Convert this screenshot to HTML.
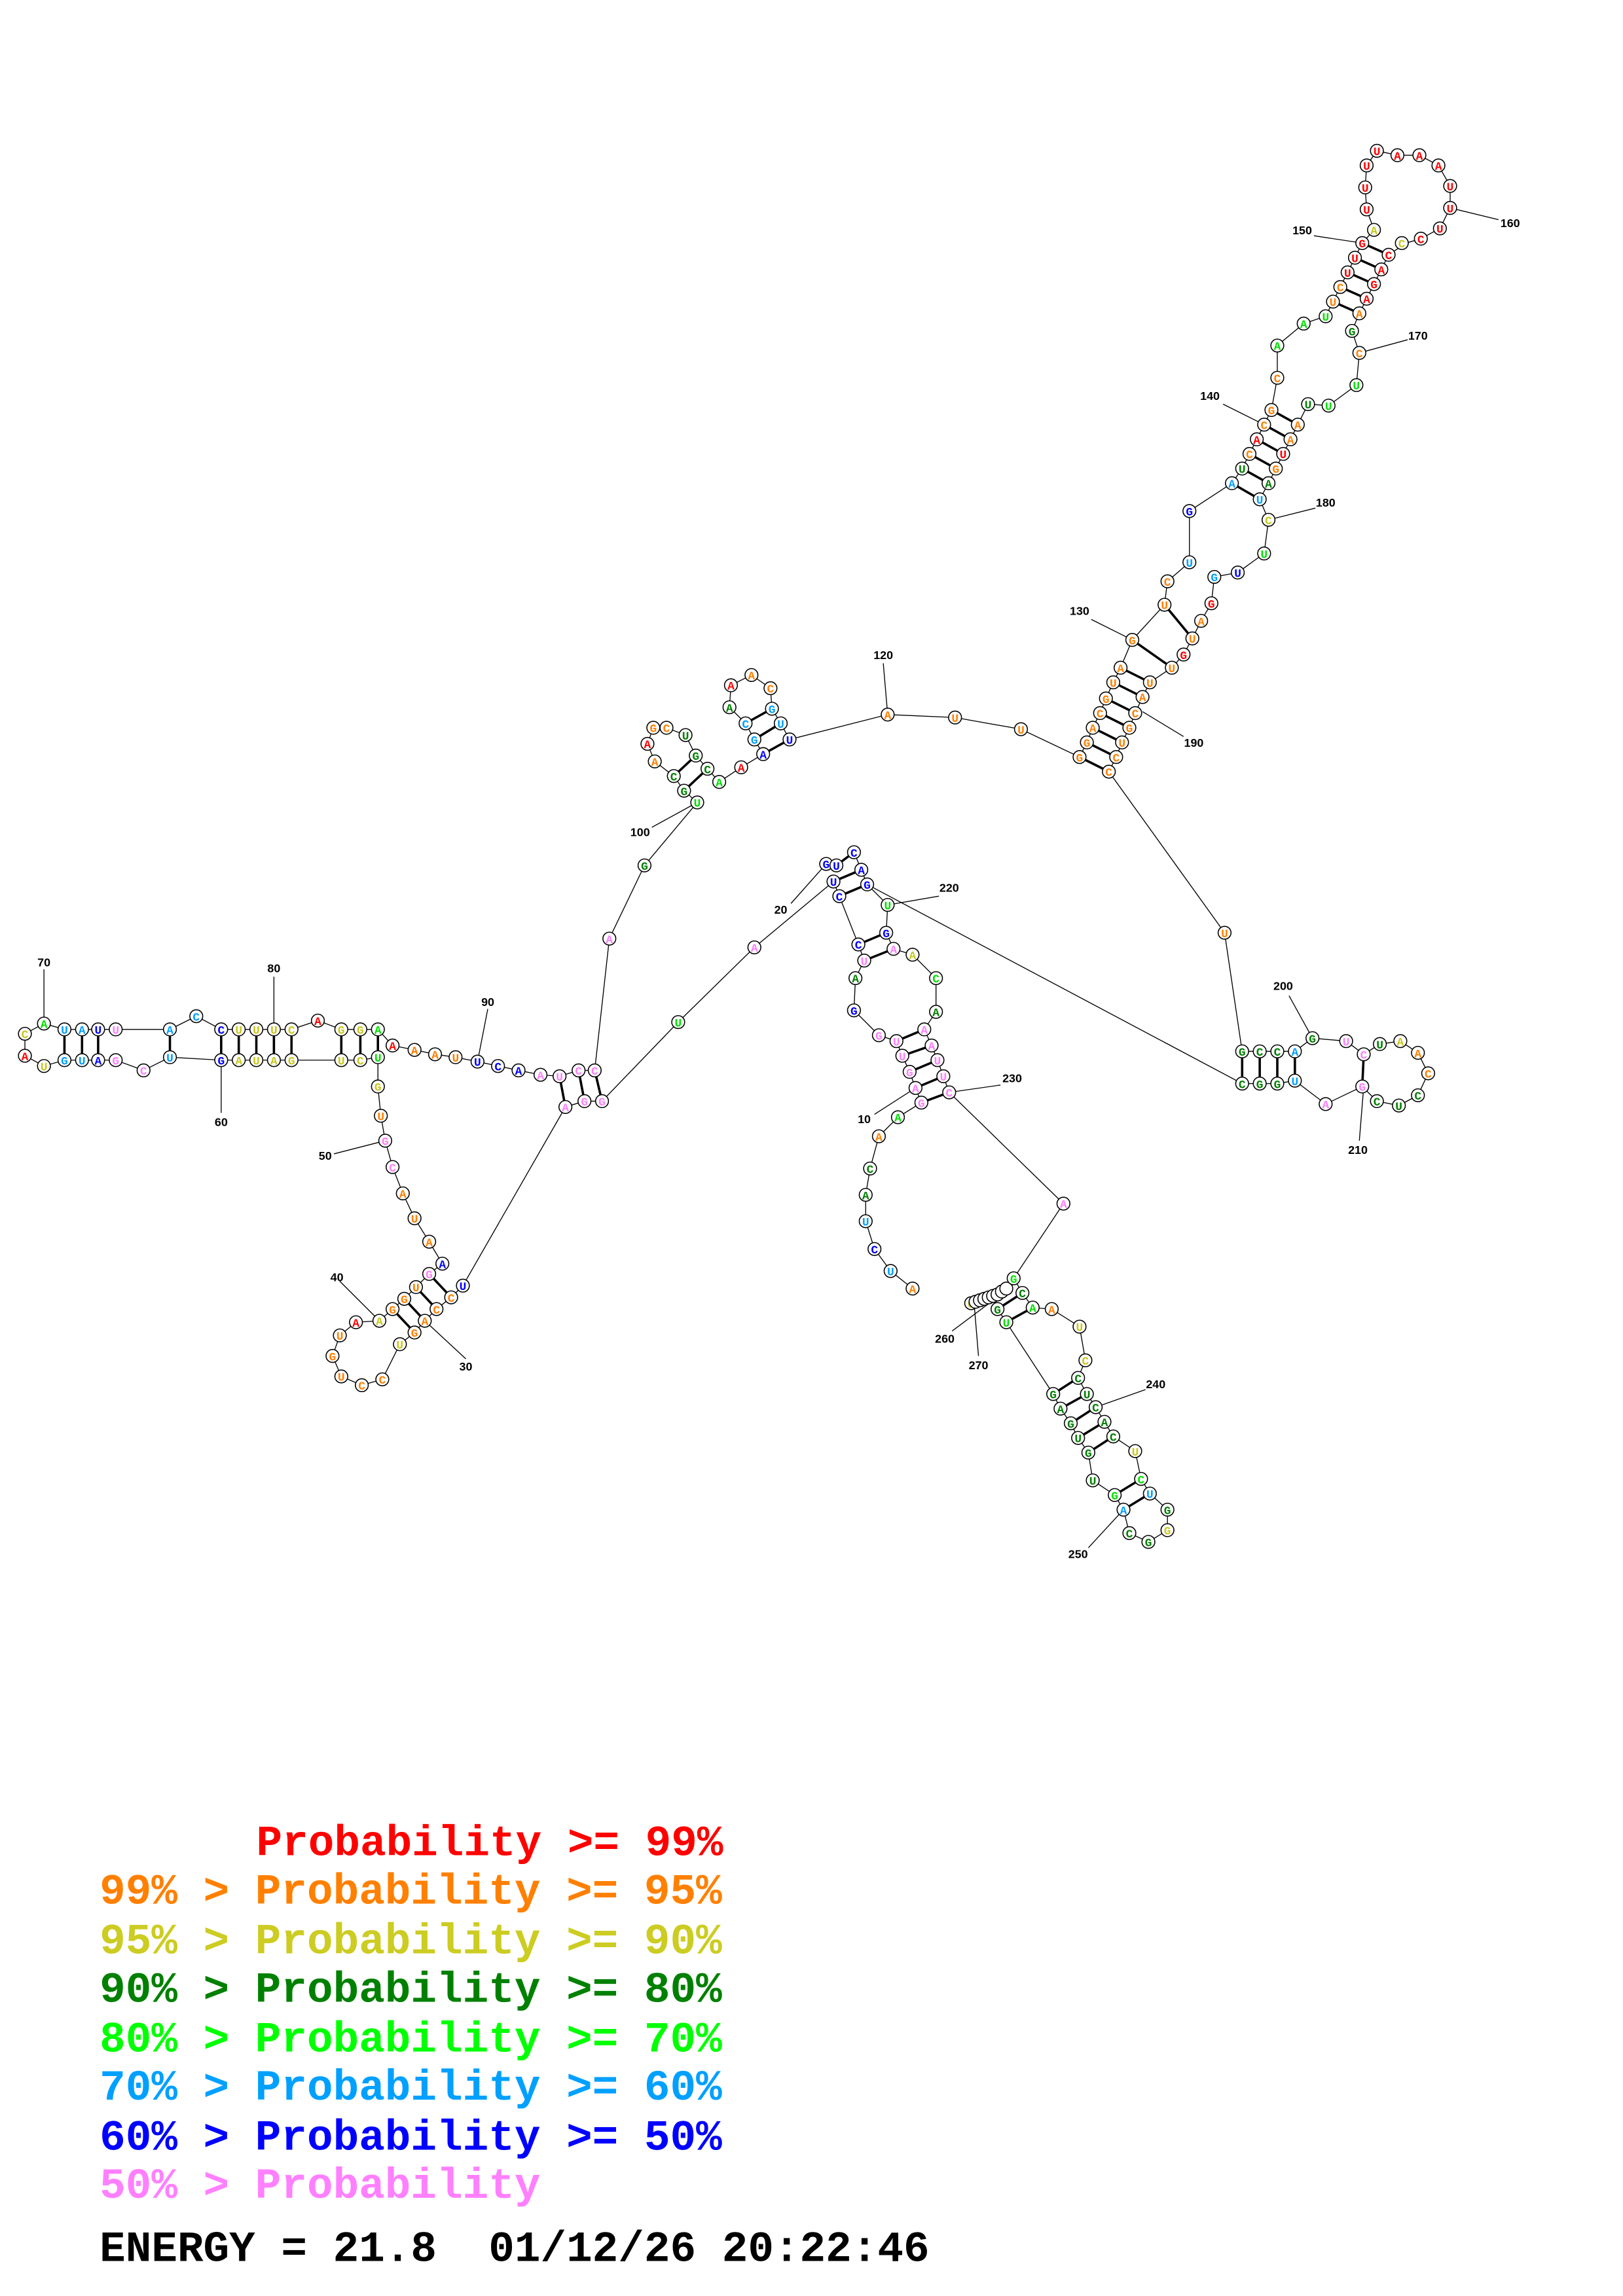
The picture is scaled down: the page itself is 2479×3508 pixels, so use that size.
<!DOCTYPE html>
<html><head><meta charset="utf-8"><style>
html,body{margin:0;padding:0;background:#fff;}
svg{display:block;}
.n circle{fill:#fff;stroke:#000;stroke-width:0.7;}
.n text{font-family:"Liberation Mono",monospace;font-weight:bold;font-size:8px;text-anchor:middle;}
.r{fill:#ff0000}.o{fill:#ff8000}.y{fill:#c8c820}.d{fill:#008000}.g{fill:#00e000}.l{fill:#00a0ff}.b{fill:#0000ff}.p{fill:#ff80ff}
.lab{font-family:"Liberation Sans",sans-serif;font-weight:bold;font-size:8px;fill:#000;text-anchor:middle;}
.leg{font-family:"Liberation Mono",monospace;font-weight:bold;font-size:29.5px;}
</style></head><body>
<svg width="2479" height="3508" viewBox="0 0 1108 1568" preserveAspectRatio="none" xmlns="http://www.w3.org/2000/svg">
<g fill="none" stroke="#000" stroke-width="0.6">
<polyline points="623,880 608,868 597,853 591,834 591,816 594,798 600,776 613,763 629,753 625,743 621,732 616,721 612,711 600,707 583,690 584,668 590,656 586,645 573,612 569,602 515,647 463,698 411,752 399,752 386,756 316,878 308,886 298,894 290,902 283,910 273,918 261,942 247,946 233,940 227,926 232,912 243,903 259,902 268,894 276,887 284,879 293,870 302,863 293,848 283,832 275,815 268,797 263,779 260,762 258,742 258,722 246,724 233,724 199,724 187,724 175,724 163,724 151,724 116,722 98,731 79,724 67,724 56,724 44,724 30,728 17,721 17,706 30,699 44,703 56,703 67,703 79,703 116,703 134,694 151,703 163,703 175,703 187,703 199,703 217,697 233,703 246,703 258,703 268,714 283,717 297,720 311,722 326,725 340,728 354,731 369,734 382,735 395,731 406,731 416,641 440,591 476,548 467,540 460,530 447,520 442,508 446,497 455,497 468,502 475,516 483,525 491,534 506,524 521,515 515,505 509,494 498,483 499,468 513,461 526,470 527,484 533,494 539,505 606,488 652,490 697,498 737,517 742,507 746,497 751,487 755,477 760,466 765,456 773,437 795,413 797,397 812,384 812,349 841,330 848,320 853,310 858,300 863,290 868,280 872,258 872,236 890,221 905,216 910,206 915,196 920,186 925,176 930,166 938,157 933,143 932,128 933,113 940,103 954,106 969,106 982,113 990,127 990,142 983,156 970,163 960,166 948,174 943,184 938,194 933,204 928,214 923,226 928,241 926,263 907,277 893,276 886,290 881,300 876,310 871,320 866,330 860,341 866,355 863,378 845,391 829,394 827,412 820,424 814,436 808,447 800,456 785,466 780,476 775,487 771,497 766,507 762,517 757,527 836,637 848,718 860,718 872,718 884,718 896,709 919,711 931,720 942,713 956,711 968,719 975,733 968,748 955,755 940,752 930,742 905,754 884,738 872,740 860,740 848,740 592,604 606,618 605,637 610,648 623,652 639,668 639,691 631,703 636,714 640,724 644,735 648,746 726,822 692,873 698,883 705,893 718,894 737,906 741,929 736,941 742,952 748,961 754,971 760,981 775,991 779,1010 785,1020 797,1031 797,1045 784,1053 771,1047 767,1031 761,1021 746,1011 743,992 736,982 731,972 724,962 719,952 687,903 681,894 678,888 663,890"/>
<polyline points="564,590 571,591 583,582 588,594 592,604"/>
<line x1="30" y1="662" x2="30" y2="699"/><line x1="187" y1="667" x2="187" y2="703"/><line x1="151" y1="724" x2="151" y2="760"/>
<line x1="333" y1="689" x2="326" y2="725"/><line x1="228" y1="788" x2="263" y2="779"/><line x1="232" y1="875" x2="259" y2="902"/>
<line x1="318" y1="928" x2="290" y2="902"/><line x1="445" y1="565" x2="476" y2="548"/><line x1="603" y1="453" x2="606" y2="488"/>
<line x1="745" y1="423" x2="773" y2="437"/><line x1="835" y1="276" x2="863" y2="290"/><line x1="897" y1="161" x2="930" y2="166"/>
<line x1="1023" y1="150" x2="990" y2="142"/><line x1="961" y1="232" x2="928" y2="241"/><line x1="898" y1="347" x2="866" y2="355"/>
<line x1="808" y1="503" x2="780" y2="486"/><line x1="880" y1="680" x2="896" y2="709"/><line x1="928" y1="779" x2="931" y2="742"/>
<line x1="641" y1="612" x2="606" y2="618"/><line x1="683" y1="741" x2="648" y2="746"/><line x1="597" y1="761" x2="625" y2="743"/>
<line x1="540" y1="617" x2="564" y2="590"/><line x1="782" y1="949" x2="748" y2="961"/><line x1="743" y1="1057" x2="767" y2="1031"/>
<line x1="650" y1="909" x2="678" y2="888"/><line x1="668" y1="926" x2="665" y2="890"/>
</g>
<g stroke="#000" stroke-width="1.6">
<line x1="629" y1="753" x2="648" y2="746"/><line x1="625" y1="743" x2="644" y2="735"/><line x1="621" y1="732" x2="640" y2="724"/><line x1="616" y1="721" x2="636" y2="714"/><line x1="612" y1="711" x2="631" y2="703"/>
<line x1="590" y1="656" x2="610" y2="648"/><line x1="586" y1="645" x2="605" y2="637"/><line x1="573" y1="612" x2="592" y2="604"/><line x1="569" y1="602" x2="588" y2="594"/><line x1="571" y1="591" x2="583" y2="582"/>
<line x1="44" y1="703" x2="44" y2="724"/><line x1="56" y1="703" x2="56" y2="724"/><line x1="67" y1="703" x2="67" y2="724"/><line x1="116" y1="703" x2="116" y2="722"/>
<line x1="151" y1="703" x2="151" y2="724"/><line x1="163" y1="703" x2="163" y2="724"/><line x1="175" y1="703" x2="175" y2="724"/><line x1="187" y1="703" x2="187" y2="724"/><line x1="199" y1="703" x2="199" y2="724"/>
<line x1="233" y1="703" x2="233" y2="724"/><line x1="246" y1="703" x2="246" y2="724"/><line x1="258" y1="703" x2="258" y2="722"/>
<line x1="386" y1="756" x2="382" y2="735"/><line x1="399" y1="752" x2="395" y2="731"/><line x1="411" y1="752" x2="406" y2="731"/>
<line x1="293" y1="870" x2="308" y2="886"/><line x1="284" y1="879" x2="298" y2="894"/><line x1="276" y1="887" x2="290" y2="902"/><line x1="268" y1="894" x2="283" y2="910"/>
<line x1="467" y1="540" x2="483" y2="525"/><line x1="460" y1="530" x2="475" y2="516"/>
<line x1="521" y1="515" x2="539" y2="505"/><line x1="515" y1="505" x2="533" y2="494"/><line x1="509" y1="494" x2="527" y2="484"/>
<line x1="737" y1="517" x2="757" y2="527"/><line x1="742" y1="507" x2="762" y2="517"/><line x1="746" y1="497" x2="766" y2="507"/><line x1="751" y1="487" x2="771" y2="497"/><line x1="755" y1="477" x2="775" y2="487"/><line x1="760" y1="466" x2="780" y2="476"/><line x1="765" y1="456" x2="785" y2="466"/>
<line x1="773" y1="437" x2="800" y2="456"/><line x1="795" y1="413" x2="814" y2="436"/>
<line x1="848" y1="320" x2="866" y2="330"/><line x1="853" y1="310" x2="871" y2="320"/><line x1="858" y1="300" x2="876" y2="310"/><line x1="863" y1="290" x2="881" y2="300"/><line x1="868" y1="280" x2="886" y2="290"/><line x1="841" y1="330" x2="860" y2="341"/>
<line x1="910" y1="206" x2="928" y2="214"/><line x1="915" y1="196" x2="933" y2="204"/><line x1="920" y1="186" x2="938" y2="194"/><line x1="925" y1="176" x2="943" y2="184"/><line x1="930" y1="166" x2="948" y2="174"/>
<line x1="848" y1="718" x2="848" y2="740"/><line x1="860" y1="718" x2="860" y2="740"/><line x1="872" y1="718" x2="872" y2="740"/><line x1="884" y1="718" x2="884" y2="738"/><line x1="931" y1="720" x2="930" y2="742"/>
<line x1="719" y1="952" x2="736" y2="941"/><line x1="724" y1="962" x2="742" y2="952"/><line x1="731" y1="972" x2="748" y2="961"/><line x1="736" y1="982" x2="754" y2="971"/><line x1="743" y1="992" x2="760" y2="981"/>
<line x1="761" y1="1021" x2="779" y2="1010"/><line x1="767" y1="1031" x2="785" y2="1020"/><line x1="681" y1="894" x2="698" y2="883"/><line x1="687" y1="903" x2="705" y2="893"/>
</g>
<g class="n">
<circle cx="623" cy="880" r="4.4"/><text x="623" y="883" class="o">A</text>
<circle cx="608" cy="868" r="4.4"/><text x="608" y="871" class="l">U</text>
<circle cx="597" cy="853" r="4.4"/><text x="597" y="856" class="b">C</text>
<circle cx="591" cy="834" r="4.4"/><text x="591" y="837" class="l">U</text>
<circle cx="591" cy="816" r="4.4"/><text x="591" y="819" class="d">A</text>
<circle cx="594" cy="798" r="4.4"/><text x="594" y="801" class="d">C</text>
<circle cx="600" cy="776" r="4.4"/><text x="600" y="779" class="o">A</text>
<circle cx="613" cy="763" r="4.4"/><text x="613" y="766" class="g">A</text>
<circle cx="629" cy="753" r="4.4"/><text x="629" y="756" class="p">G</text>
<circle cx="625" cy="743" r="4.4"/><text x="625" y="746" class="p">A</text>
<circle cx="621" cy="732" r="4.4"/><text x="621" y="735" class="p">G</text>
<circle cx="616" cy="721" r="4.4"/><text x="616" y="724" class="p">U</text>
<circle cx="612" cy="711" r="4.4"/><text x="612" y="714" class="p">U</text>
<circle cx="600" cy="707" r="4.4"/><text x="600" y="710" class="p">G</text>
<circle cx="583" cy="690" r="4.4"/><text x="583" y="693" class="b">G</text>
<circle cx="584" cy="668" r="4.4"/><text x="584" y="671" class="d">A</text>
<circle cx="590" cy="656" r="4.4"/><text x="590" y="659" class="p">U</text>
<circle cx="586" cy="645" r="4.4"/><text x="586" y="648" class="b">C</text>
<circle cx="573" cy="612" r="4.4"/><text x="573" y="615" class="b">C</text>
<circle cx="569" cy="602" r="4.4"/><text x="569" y="605" class="b">U</text>
<circle cx="564" cy="590" r="4.4"/><text x="564" y="593" class="b">G</text>
<circle cx="571" cy="591" r="4.4"/><text x="571" y="594" class="b">U</text>
<circle cx="583" cy="582" r="4.4"/><text x="583" y="585" class="b">C</text>
<circle cx="588" cy="594" r="4.4"/><text x="588" y="597" class="b">A</text>
<circle cx="592" cy="604" r="4.4"/><text x="592" y="607" class="b">G</text>
<circle cx="515" cy="647" r="4.4"/><text x="515" y="650" class="p">A</text>
<circle cx="463" cy="698" r="4.4"/><text x="463" y="701" class="g">U</text>
<circle cx="411" cy="752" r="4.4"/><text x="411" y="755" class="p">G</text>
<circle cx="399" cy="752" r="4.4"/><text x="399" y="755" class="p">G</text>
<circle cx="386" cy="756" r="4.4"/><text x="386" y="759" class="p">A</text>
<circle cx="382" cy="735" r="4.4"/><text x="382" y="738" class="p">U</text>
<circle cx="395" cy="731" r="4.4"/><text x="395" y="734" class="p">C</text>
<circle cx="406" cy="731" r="4.4"/><text x="406" y="734" class="p">C</text>
<circle cx="369" cy="734" r="4.4"/><text x="369" y="737" class="p">A</text>
<circle cx="316" cy="878" r="4.4"/><text x="316" y="881" class="b">U</text>
<circle cx="308" cy="886" r="4.4"/><text x="308" y="889" class="o">C</text>
<circle cx="298" cy="894" r="4.4"/><text x="298" y="897" class="o">C</text>
<circle cx="290" cy="902" r="4.4"/><text x="290" y="905" class="o">A</text>
<circle cx="283" cy="910" r="4.4"/><text x="283" y="913" class="o">G</text>
<circle cx="273" cy="918" r="4.4"/><text x="273" y="921" class="y">U</text>
<circle cx="261" cy="942" r="4.4"/><text x="261" y="945" class="o">C</text>
<circle cx="247" cy="946" r="4.4"/><text x="247" y="949" class="o">C</text>
<circle cx="233" cy="940" r="4.4"/><text x="233" y="943" class="o">U</text>
<circle cx="227" cy="926" r="4.4"/><text x="227" y="929" class="o">G</text>
<circle cx="232" cy="912" r="4.4"/><text x="232" y="915" class="o">U</text>
<circle cx="243" cy="903" r="4.4"/><text x="243" y="906" class="r">A</text>
<circle cx="259" cy="902" r="4.4"/><text x="259" y="905" class="y">A</text>
<circle cx="268" cy="894" r="4.4"/><text x="268" y="897" class="o">G</text>
<circle cx="276" cy="887" r="4.4"/><text x="276" y="890" class="o">G</text>
<circle cx="284" cy="879" r="4.4"/><text x="284" y="882" class="o">U</text>
<circle cx="293" cy="870" r="4.4"/><text x="293" y="873" class="p">G</text>
<circle cx="302" cy="863" r="4.4"/><text x="302" y="866" class="b">A</text>
<circle cx="293" cy="848" r="4.4"/><text x="293" y="851" class="o">A</text>
<circle cx="283" cy="832" r="4.4"/><text x="283" y="835" class="o">U</text>
<circle cx="275" cy="815" r="4.4"/><text x="275" y="818" class="o">A</text>
<circle cx="268" cy="797" r="4.4"/><text x="268" y="800" class="p">C</text>
<circle cx="263" cy="779" r="4.4"/><text x="263" y="782" class="p">G</text>
<circle cx="260" cy="762" r="4.4"/><text x="260" y="765" class="o">U</text>
<circle cx="258" cy="742" r="4.4"/><text x="258" y="745" class="y">G</text>
<circle cx="258" cy="722" r="4.4"/><text x="258" y="725" class="g">U</text>
<circle cx="246" cy="724" r="4.4"/><text x="246" y="727" class="y">C</text>
<circle cx="233" cy="724" r="4.4"/><text x="233" y="727" class="y">U</text>
<circle cx="199" cy="724" r="4.4"/><text x="199" y="727" class="y">G</text>
<circle cx="187" cy="724" r="4.4"/><text x="187" y="727" class="y">A</text>
<circle cx="175" cy="724" r="4.4"/><text x="175" y="727" class="y">U</text>
<circle cx="163" cy="724" r="4.4"/><text x="163" y="727" class="y">A</text>
<circle cx="151" cy="724" r="4.4"/><text x="151" y="727" class="b">G</text>
<circle cx="116" cy="722" r="4.4"/><text x="116" y="725" class="l">U</text>
<circle cx="98" cy="731" r="4.4"/><text x="98" y="734" class="p">C</text>
<circle cx="79" cy="724" r="4.4"/><text x="79" y="727" class="p">G</text>
<circle cx="67" cy="724" r="4.4"/><text x="67" y="727" class="b">A</text>
<circle cx="56" cy="724" r="4.4"/><text x="56" y="727" class="l">U</text>
<circle cx="44" cy="724" r="4.4"/><text x="44" y="727" class="l">G</text>
<circle cx="30" cy="728" r="4.4"/><text x="30" y="731" class="y">U</text>
<circle cx="17" cy="721" r="4.4"/><text x="17" y="724" class="r">A</text>
<circle cx="17" cy="706" r="4.4"/><text x="17" y="709" class="y">C</text>
<circle cx="30" cy="699" r="4.4"/><text x="30" y="702" class="g">A</text>
<circle cx="44" cy="703" r="4.4"/><text x="44" y="706" class="l">U</text>
<circle cx="56" cy="703" r="4.4"/><text x="56" y="706" class="l">A</text>
<circle cx="67" cy="703" r="4.4"/><text x="67" y="706" class="b">U</text>
<circle cx="79" cy="703" r="4.4"/><text x="79" y="706" class="p">U</text>
<circle cx="116" cy="703" r="4.4"/><text x="116" y="706" class="l">A</text>
<circle cx="134" cy="694" r="4.4"/><text x="134" y="697" class="l">C</text>
<circle cx="151" cy="703" r="4.4"/><text x="151" y="706" class="b">C</text>
<circle cx="163" cy="703" r="4.4"/><text x="163" y="706" class="y">U</text>
<circle cx="175" cy="703" r="4.4"/><text x="175" y="706" class="y">U</text>
<circle cx="187" cy="703" r="4.4"/><text x="187" y="706" class="y">U</text>
<circle cx="199" cy="703" r="4.4"/><text x="199" y="706" class="y">C</text>
<circle cx="217" cy="697" r="4.4"/><text x="217" y="700" class="r">A</text>
<circle cx="233" cy="703" r="4.4"/><text x="233" y="706" class="y">G</text>
<circle cx="246" cy="703" r="4.4"/><text x="246" y="706" class="y">G</text>
<circle cx="258" cy="703" r="4.4"/><text x="258" y="706" class="g">A</text>
<circle cx="268" cy="714" r="4.4"/><text x="268" y="717" class="r">A</text>
<circle cx="283" cy="717" r="4.4"/><text x="283" y="720" class="o">A</text>
<circle cx="297" cy="720" r="4.4"/><text x="297" y="723" class="o">A</text>
<circle cx="311" cy="722" r="4.4"/><text x="311" y="725" class="o">U</text>
<circle cx="326" cy="725" r="4.4"/><text x="326" y="728" class="b">U</text>
<circle cx="340" cy="728" r="4.4"/><text x="340" y="731" class="b">C</text>
<circle cx="354" cy="731" r="4.4"/><text x="354" y="734" class="b">A</text>
<circle cx="416" cy="641" r="4.4"/><text x="416" y="644" class="p">A</text>
<circle cx="440" cy="591" r="4.4"/><text x="440" y="594" class="d">G</text>
<circle cx="476" cy="548" r="4.4"/><text x="476" y="551" class="g">U</text>
<circle cx="467" cy="540" r="4.4"/><text x="467" y="543" class="d">G</text>
<circle cx="460" cy="530" r="4.4"/><text x="460" y="533" class="d">C</text>
<circle cx="447" cy="520" r="4.4"/><text x="447" y="523" class="o">A</text>
<circle cx="442" cy="508" r="4.4"/><text x="442" y="511" class="r">A</text>
<circle cx="446" cy="497" r="4.4"/><text x="446" y="500" class="o">G</text>
<circle cx="455" cy="497" r="4.4"/><text x="455" y="500" class="o">C</text>
<circle cx="468" cy="502" r="4.4"/><text x="468" y="505" class="d">U</text>
<circle cx="475" cy="516" r="4.4"/><text x="475" y="519" class="d">G</text>
<circle cx="483" cy="525" r="4.4"/><text x="483" y="528" class="d">C</text>
<circle cx="491" cy="534" r="4.4"/><text x="491" y="537" class="g">A</text>
<circle cx="506" cy="524" r="4.4"/><text x="506" y="527" class="r">A</text>
<circle cx="521" cy="515" r="4.4"/><text x="521" y="518" class="b">A</text>
<circle cx="515" cy="505" r="4.4"/><text x="515" y="508" class="l">G</text>
<circle cx="509" cy="494" r="4.4"/><text x="509" y="497" class="l">C</text>
<circle cx="498" cy="483" r="4.4"/><text x="498" y="486" class="d">A</text>
<circle cx="499" cy="468" r="4.4"/><text x="499" y="471" class="r">A</text>
<circle cx="513" cy="461" r="4.4"/><text x="513" y="464" class="o">A</text>
<circle cx="526" cy="470" r="4.4"/><text x="526" y="473" class="o">C</text>
<circle cx="527" cy="484" r="4.4"/><text x="527" y="487" class="l">G</text>
<circle cx="533" cy="494" r="4.4"/><text x="533" y="497" class="l">U</text>
<circle cx="539" cy="505" r="4.4"/><text x="539" y="508" class="b">U</text>
<circle cx="606" cy="488" r="4.4"/><text x="606" y="491" class="o">A</text>
<circle cx="652" cy="490" r="4.4"/><text x="652" y="493" class="o">U</text>
<circle cx="697" cy="498" r="4.4"/><text x="697" y="501" class="o">U</text>
<circle cx="737" cy="517" r="4.4"/><text x="737" y="520" class="o">G</text>
<circle cx="742" cy="507" r="4.4"/><text x="742" y="510" class="o">G</text>
<circle cx="746" cy="497" r="4.4"/><text x="746" y="500" class="o">A</text>
<circle cx="751" cy="487" r="4.4"/><text x="751" y="490" class="o">C</text>
<circle cx="755" cy="477" r="4.4"/><text x="755" y="480" class="o">G</text>
<circle cx="760" cy="466" r="4.4"/><text x="760" y="469" class="o">U</text>
<circle cx="765" cy="456" r="4.4"/><text x="765" y="459" class="o">A</text>
<circle cx="773" cy="437" r="4.4"/><text x="773" y="440" class="o">G</text>
<circle cx="795" cy="413" r="4.4"/><text x="795" y="416" class="o">U</text>
<circle cx="797" cy="397" r="4.4"/><text x="797" y="400" class="o">C</text>
<circle cx="812" cy="384" r="4.4"/><text x="812" y="387" class="l">U</text>
<circle cx="812" cy="349" r="4.4"/><text x="812" y="352" class="b">G</text>
<circle cx="841" cy="330" r="4.4"/><text x="841" y="333" class="l">A</text>
<circle cx="848" cy="320" r="4.4"/><text x="848" y="323" class="d">U</text>
<circle cx="853" cy="310" r="4.4"/><text x="853" y="313" class="o">C</text>
<circle cx="858" cy="300" r="4.4"/><text x="858" y="303" class="r">A</text>
<circle cx="863" cy="290" r="4.4"/><text x="863" y="293" class="o">C</text>
<circle cx="868" cy="280" r="4.4"/><text x="868" y="283" class="o">G</text>
<circle cx="872" cy="258" r="4.4"/><text x="872" y="261" class="o">C</text>
<circle cx="872" cy="236" r="4.4"/><text x="872" y="239" class="g">A</text>
<circle cx="890" cy="221" r="4.4"/><text x="890" y="224" class="g">A</text>
<circle cx="905" cy="216" r="4.4"/><text x="905" y="219" class="g">U</text>
<circle cx="910" cy="206" r="4.4"/><text x="910" y="209" class="o">U</text>
<circle cx="915" cy="196" r="4.4"/><text x="915" y="199" class="o">C</text>
<circle cx="920" cy="186" r="4.4"/><text x="920" y="189" class="r">U</text>
<circle cx="925" cy="176" r="4.4"/><text x="925" y="179" class="r">U</text>
<circle cx="930" cy="166" r="4.4"/><text x="930" y="169" class="r">G</text>
<circle cx="938" cy="157" r="4.4"/><text x="938" y="160" class="y">A</text>
<circle cx="933" cy="143" r="4.4"/><text x="933" y="146" class="r">U</text>
<circle cx="932" cy="128" r="4.4"/><text x="932" y="131" class="r">U</text>
<circle cx="933" cy="113" r="4.4"/><text x="933" y="116" class="r">U</text>
<circle cx="940" cy="103" r="4.4"/><text x="940" y="106" class="r">U</text>
<circle cx="954" cy="106" r="4.4"/><text x="954" y="109" class="r">A</text>
<circle cx="969" cy="106" r="4.4"/><text x="969" y="109" class="r">A</text>
<circle cx="982" cy="113" r="4.4"/><text x="982" y="116" class="r">A</text>
<circle cx="990" cy="127" r="4.4"/><text x="990" y="130" class="r">U</text>
<circle cx="990" cy="142" r="4.4"/><text x="990" y="145" class="r">U</text>
<circle cx="983" cy="156" r="4.4"/><text x="983" y="159" class="r">U</text>
<circle cx="970" cy="163" r="4.4"/><text x="970" y="166" class="r">C</text>
<circle cx="957" cy="166" r="4.4"/><text x="957" y="169" class="y">C</text>
<circle cx="948" cy="174" r="4.4"/><text x="948" y="177" class="r">C</text>
<circle cx="943" cy="184" r="4.4"/><text x="943" y="187" class="r">A</text>
<circle cx="938" cy="194" r="4.4"/><text x="938" y="197" class="r">G</text>
<circle cx="933" cy="204" r="4.4"/><text x="933" y="207" class="r">A</text>
<circle cx="928" cy="214" r="4.4"/><text x="928" y="217" class="o">A</text>
<circle cx="923" cy="226" r="4.4"/><text x="923" y="229" class="d">G</text>
<circle cx="928" cy="241" r="4.4"/><text x="928" y="244" class="o">C</text>
<circle cx="926" cy="263" r="4.4"/><text x="926" y="266" class="g">U</text>
<circle cx="907" cy="277" r="4.4"/><text x="907" y="280" class="g">U</text>
<circle cx="893" cy="276" r="4.4"/><text x="893" y="279" class="d">U</text>
<circle cx="886" cy="290" r="4.4"/><text x="886" y="293" class="o">A</text>
<circle cx="881" cy="300" r="4.4"/><text x="881" y="303" class="o">A</text>
<circle cx="876" cy="310" r="4.4"/><text x="876" y="313" class="r">U</text>
<circle cx="871" cy="320" r="4.4"/><text x="871" y="323" class="o">G</text>
<circle cx="866" cy="330" r="4.4"/><text x="866" y="333" class="d">A</text>
<circle cx="860" cy="341" r="4.4"/><text x="860" y="344" class="l">U</text>
<circle cx="866" cy="355" r="4.4"/><text x="866" y="358" class="y">C</text>
<circle cx="863" cy="378" r="4.4"/><text x="863" y="381" class="g">U</text>
<circle cx="845" cy="391" r="4.4"/><text x="845" y="394" class="b">U</text>
<circle cx="829" cy="394" r="4.4"/><text x="829" y="397" class="l">G</text>
<circle cx="827" cy="412" r="4.4"/><text x="827" y="415" class="r">G</text>
<circle cx="820" cy="424" r="4.4"/><text x="820" y="427" class="o">A</text>
<circle cx="814" cy="436" r="4.4"/><text x="814" y="439" class="o">U</text>
<circle cx="808" cy="447" r="4.4"/><text x="808" y="450" class="r">G</text>
<circle cx="800" cy="456" r="4.4"/><text x="800" y="459" class="o">U</text>
<circle cx="785" cy="466" r="4.4"/><text x="785" y="469" class="o">U</text>
<circle cx="780" cy="476" r="4.4"/><text x="780" y="479" class="o">A</text>
<circle cx="775" cy="487" r="4.4"/><text x="775" y="490" class="o">C</text>
<circle cx="771" cy="497" r="4.4"/><text x="771" y="500" class="o">G</text>
<circle cx="766" cy="507" r="4.4"/><text x="766" y="510" class="o">U</text>
<circle cx="762" cy="517" r="4.4"/><text x="762" y="520" class="o">C</text>
<circle cx="757" cy="527" r="4.4"/><text x="757" y="530" class="o">C</text>
<circle cx="836" cy="637" r="4.4"/><text x="836" y="640" class="o">U</text>
<circle cx="848" cy="718" r="4.4"/><text x="848" y="721" class="d">G</text>
<circle cx="860" cy="718" r="4.4"/><text x="860" y="721" class="d">C</text>
<circle cx="872" cy="718" r="4.4"/><text x="872" y="721" class="d">C</text>
<circle cx="884" cy="718" r="4.4"/><text x="884" y="721" class="l">A</text>
<circle cx="896" cy="709" r="4.4"/><text x="896" y="712" class="d">G</text>
<circle cx="919" cy="711" r="4.4"/><text x="919" y="714" class="p">U</text>
<circle cx="931" cy="720" r="4.4"/><text x="931" y="723" class="p">C</text>
<circle cx="942" cy="713" r="4.4"/><text x="942" y="716" class="d">U</text>
<circle cx="956" cy="711" r="4.4"/><text x="956" y="714" class="y">A</text>
<circle cx="968" cy="719" r="4.4"/><text x="968" y="722" class="o">A</text>
<circle cx="975" cy="733" r="4.4"/><text x="975" y="736" class="o">C</text>
<circle cx="968" cy="748" r="4.4"/><text x="968" y="751" class="d">C</text>
<circle cx="955" cy="755" r="4.4"/><text x="955" y="758" class="d">U</text>
<circle cx="940" cy="752" r="4.4"/><text x="940" y="755" class="d">C</text>
<circle cx="930" cy="742" r="4.4"/><text x="930" y="745" class="p">G</text>
<circle cx="905" cy="754" r="4.4"/><text x="905" y="757" class="p">A</text>
<circle cx="884" cy="738" r="4.4"/><text x="884" y="741" class="l">U</text>
<circle cx="872" cy="740" r="4.4"/><text x="872" y="743" class="d">G</text>
<circle cx="860" cy="740" r="4.4"/><text x="860" y="743" class="d">G</text>
<circle cx="848" cy="740" r="4.4"/><text x="848" y="743" class="d">C</text>
<circle cx="606" cy="618" r="4.4"/><text x="606" y="621" class="g">U</text>
<circle cx="605" cy="637" r="4.4"/><text x="605" y="640" class="b">G</text>
<circle cx="610" cy="648" r="4.4"/><text x="610" y="651" class="p">A</text>
<circle cx="623" cy="652" r="4.4"/><text x="623" y="655" class="y">A</text>
<circle cx="639" cy="668" r="4.4"/><text x="639" y="671" class="g">C</text>
<circle cx="639" cy="691" r="4.4"/><text x="639" y="694" class="d">A</text>
<circle cx="631" cy="703" r="4.4"/><text x="631" y="706" class="p">A</text>
<circle cx="636" cy="714" r="4.4"/><text x="636" y="717" class="p">A</text>
<circle cx="640" cy="724" r="4.4"/><text x="640" y="727" class="p">U</text>
<circle cx="644" cy="735" r="4.4"/><text x="644" y="738" class="p">U</text>
<circle cx="648" cy="746" r="4.4"/><text x="648" y="749" class="p">C</text>
<circle cx="726" cy="822" r="4.4"/><text x="726" y="825" class="p">A</text>
<circle cx="663" cy="890" r="4.4"/><text x="663" y="893" class="y">C</text>
<circle cx="666" cy="889" r="4.4"/>
<circle cx="669" cy="888" r="4.4"/>
<circle cx="672" cy="887" r="4.4"/>
<circle cx="675" cy="886" r="4.4"/>
<circle cx="678" cy="885" r="4.4"/>
<circle cx="681" cy="884" r="4.4"/>
<circle cx="684" cy="882" r="4.4"/>
<circle cx="687" cy="880" r="4.4"/>
<circle cx="692" cy="873" r="4.4"/><text x="692" y="876" class="g">G</text>
<circle cx="698" cy="883" r="4.4"/><text x="698" y="886" class="d">C</text>
<circle cx="681" cy="894" r="4.4"/><text x="681" y="897" class="d">G</text>
<circle cx="705" cy="893" r="4.4"/><text x="705" y="896" class="g">A</text>
<circle cx="718" cy="894" r="4.4"/><text x="718" y="897" class="o">A</text>
<circle cx="687" cy="903" r="4.4"/><text x="687" y="906" class="g">U</text>
<circle cx="737" cy="906" r="4.4"/><text x="737" y="909" class="y">U</text>
<circle cx="741" cy="929" r="4.4"/><text x="741" y="932" class="y">C</text>
<circle cx="736" cy="941" r="4.4"/><text x="736" y="944" class="d">C</text>
<circle cx="719" cy="952" r="4.4"/><text x="719" y="955" class="d">G</text>
<circle cx="742" cy="952" r="4.4"/><text x="742" y="955" class="d">U</text>
<circle cx="724" cy="962" r="4.4"/><text x="724" y="965" class="d">A</text>
<circle cx="748" cy="961" r="4.4"/><text x="748" y="964" class="d">C</text>
<circle cx="731" cy="972" r="4.4"/><text x="731" y="975" class="d">G</text>
<circle cx="754" cy="971" r="4.4"/><text x="754" y="974" class="d">A</text>
<circle cx="736" cy="982" r="4.4"/><text x="736" y="985" class="d">U</text>
<circle cx="760" cy="981" r="4.4"/><text x="760" y="984" class="d">C</text>
<circle cx="743" cy="992" r="4.4"/><text x="743" y="995" class="d">G</text>
<circle cx="775" cy="991" r="4.4"/><text x="775" y="994" class="y">U</text>
<circle cx="746" cy="1011" r="4.4"/><text x="746" y="1014" class="d">U</text>
<circle cx="779" cy="1010" r="4.4"/><text x="779" y="1013" class="g">C</text>
<circle cx="761" cy="1021" r="4.4"/><text x="761" y="1024" class="g">G</text>
<circle cx="785" cy="1020" r="4.4"/><text x="785" y="1023" class="l">U</text>
<circle cx="767" cy="1031" r="4.4"/><text x="767" y="1034" class="l">A</text>
<circle cx="797" cy="1031" r="4.4"/><text x="797" y="1034" class="d">G</text>
<circle cx="797" cy="1045" r="4.4"/><text x="797" y="1048" class="y">G</text>
<circle cx="784" cy="1053" r="4.4"/><text x="784" y="1056" class="d">G</text>
<circle cx="771" cy="1047" r="4.4"/><text x="771" y="1050" class="d">C</text>
</g>
<g class="lab">
<text x="30" y="660">70</text><text x="187" y="664">80</text><text x="151" y="769">60</text><text x="333" y="687">90</text>
<text x="222" y="792">50</text><text x="230" y="875">40</text><text x="318" y="936">30</text><text x="437" y="571">100</text>
<text x="603" y="450">120</text><text x="737" y="420">130</text><text x="826" y="273">140</text><text x="889" y="160">150</text>
<text x="1031" y="155">160</text><text x="968" y="232">170</text><text x="905" y="346">180</text><text x="815" y="510">190</text>
<text x="876" y="676">200</text><text x="927" y="788">210</text><text x="648" y="609">220</text><text x="691" y="739">230</text>
<text x="590" y="767">10</text><text x="533" y="624">20</text><text x="789" y="948">240</text><text x="736" y="1064">250</text>
<text x="645" y="917">260</text><text x="668" y="935">270</text>
</g>
<g class="leg">
<text x="175" y="1267" fill="#ff0000">Probability &gt;= 99%</text>
<text x="68" y="1300" fill="#ff8000">99% &gt; Probability &gt;= 95%</text>
<text x="68" y="1334" fill="#cccc22">95% &gt; Probability &gt;= 90%</text>
<text x="68" y="1367" fill="#008000">90% &gt; Probability &gt;= 80%</text>
<text x="68" y="1401" fill="#00ff00">80% &gt; Probability &gt;= 70%</text>
<text x="68" y="1434" fill="#00a0ff">70% &gt; Probability &gt;= 60%</text>
<text x="68" y="1468" fill="#0000ff">60% &gt; Probability &gt;= 50%</text>
<text x="68" y="1501" fill="#ff80ff">50% &gt; Probability</text>
<text x="68" y="1544" fill="#000" xml:space="preserve">ENERGY = 21.8  01/12/26 20:22:46</text>
</g>
</svg>
</body></html>
